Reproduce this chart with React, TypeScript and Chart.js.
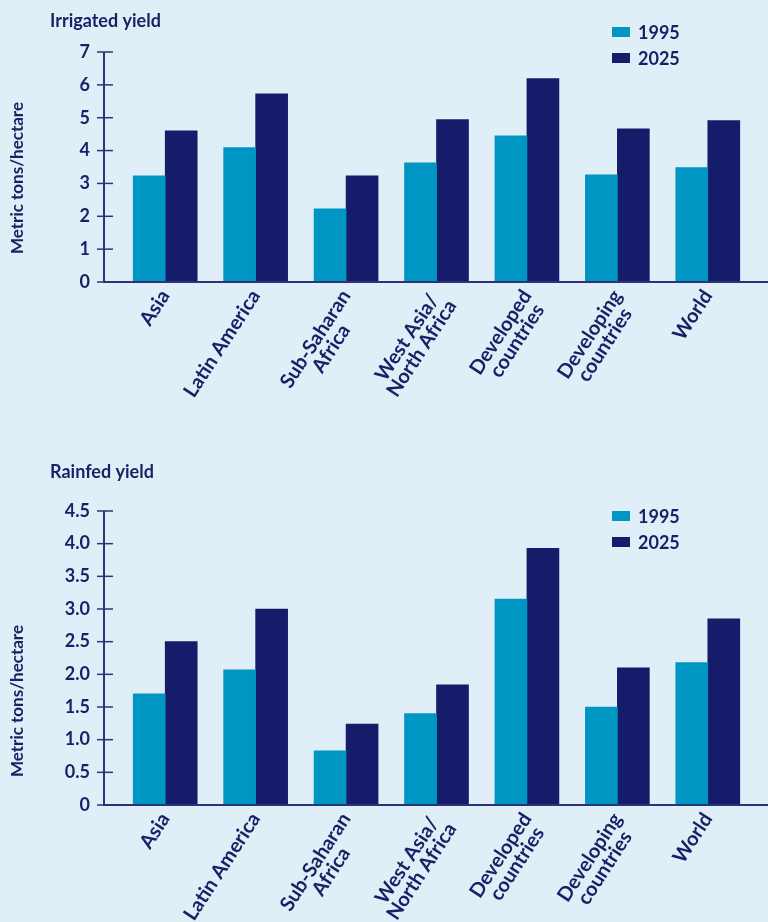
import React, { useEffect, useRef } from "react";
import { Chart, registerables } from "chart.js";
Chart.register(...registerables);

const categories: string[][] = [
  ["Asia"],
  ["Latin America"],
  ["Sub-Saharan", "Africa"],
  ["West Asia/", "North Africa"],
  ["Developed", "countries"],
  ["Developing", "countries"],
  ["World"],
];
const seriesLabels = ["1995", "2025"];
const irrigated1995 = [3.23, 4.09, 2.23, 3.63, 4.45, 3.26, 3.48];
const irrigated2025 = [4.6, 5.73, 3.23, 4.94, 6.19, 4.66, 4.91];
const rainfed1995 = [1.7, 2.07, 0.83, 1.4, 3.15, 1.5, 2.18];
const rainfed2025 = [2.5, 3.0, 1.24, 1.84, 3.93, 2.1, 2.85];
const irrigatedTicks = { max: 7, step: 1 };
const rainfedTicks = { max: 4.5, step: 0.5 };

const BG = "rgb(224,239,247)";
const NAVY = "#1a1f66";
const AXIS = "#2b3478";
const C1995 = "#0096c3";
const C2025 = "#151c69";
const FONT = "Lato, 'Open Sans', sans-serif";
const W = "bold";
const XFONT_SIZE = 20;

// center the lines of a multi-line rotated label (Chart.js right-aligns them)
const measureCtx = (() => {
  const c = document.createElement("canvas");
  return c.getContext("2d") as CanvasRenderingContext2D;
})();
function centeredLines(lines: string[]): string[] {
  if (lines.length < 2) return lines;
  measureCtx.font = `${W} ${XFONT_SIZE}px ${FONT}`;
  const widths = lines.map((l) => measureCtx.measureText(l).width);
  const maxW = Math.max(...widths);
  const sp = measureCtx.measureText(" ").width || 4;
  return lines.map((l, i) => l + " ".repeat(Math.max(0, Math.round((maxW - widths[i]) / 2 / sp))));
}

type Cfg = {
  title: string;
  d1: number[];
  d2: number[];
  max: number;
  step: number;
  height: number;
  padTop: number;
  xHeight: number;
  titleY: number;
  yTitleY: number;
  legendY: number;
  fmt: (v: number) => string;
};

const decor = {
  id: "decor",
  afterDatasetsDraw(chart: any, _a: any, opts: any) {
    const { ctx, chartArea, scales } = chart;
    const y = scales.y;
    const ax = chartArea.left - 16;
    ctx.save();
    ctx.strokeStyle = AXIS;
    ctx.lineWidth = 2;
    ctx.beginPath();
    ctx.moveTo(ax, y.getPixelForValue(y.max));
    ctx.lineTo(ax, chartArea.bottom);
    ctx.lineTo(chart.width, chartArea.bottom);
    ctx.stroke();
    ctx.lineWidth = 1.5;
    y.ticks.forEach((t: any) => {
      const py = y.getPixelForValue(t.value);
      ctx.beginPath();
      ctx.moveTo(ax - 7, py);
      ctx.lineTo(ax + 9, py);
      ctx.stroke();
    });
    ctx.fillStyle = NAVY;
    ctx.font = `${W} 18px ${FONT}`;
    ctx.textAlign = "left";
    ctx.textBaseline = "middle";
    ctx.fillText(opts.title, 50, opts.titleY);
    ctx.save();
    ctx.translate(18, opts.yTitleY);
    ctx.rotate(-Math.PI / 2);
    ctx.textAlign = "center";
    ctx.font = `${W} 17px ${FONT}`;
    ctx.fillText("Metric tons/hectare", 0, 0);
    ctx.restore();
    chart.data.datasets.forEach((ds: any, i: number) => {
      const cy = opts.legendY + i * 26;
      ctx.fillStyle = ds.backgroundColor;
      ctx.fillRect(612, cy - 5, 18, 10);
      ctx.fillStyle = NAVY;
      ctx.font = `${W} 18px ${FONT}`;
      ctx.textAlign = "left";
      ctx.fillText(ds.label, 638, cy + 1);
    });
    ctx.restore();
  },
};

function YieldChart({ cfg }: { cfg: Cfg }) {
  const ref = useRef<HTMLCanvasElement>(null);
  useEffect(() => {
    const chart = new Chart(ref.current as HTMLCanvasElement, {
      type: "bar",
      data: {
        labels: categories,
        datasets: [
          { label: seriesLabels[0], data: cfg.d1, backgroundColor: C1995, barThickness: 32 },
          { label: seriesLabels[1], data: cfg.d2, backgroundColor: C2025, barThickness: 32 },
        ],
      },
      options: {
        responsive: false,
        maintainAspectRatio: false,
        animation: false,
        layout: { padding: { top: cfg.padTop, right: 15, left: 0, bottom: 0 } },
        plugins: {
          legend: { display: false },
          title: { display: false },
          tooltip: { enabled: false },
          decor: { title: cfg.title, titleY: cfg.titleY, yTitleY: cfg.yTitleY, legendY: cfg.legendY },
        } as any,
        scales: {
          x: {
            grid: { display: false, drawTicks: false },
            border: { display: false },
            ticks: {
              autoSkip: false,
              minRotation: 57,
              maxRotation: 57,
              padding: 5,
              color: NAVY,
              font: { family: FONT, size: XFONT_SIZE, weight: W, lineHeight: 0.92 },
              callback: (_v: any, i: number) => centeredLines(categories[i]),
            },
            afterFit: (s: any) => {
              s.height = cfg.xHeight;
            },
          },
          y: {
            min: 0,
            max: cfg.max,
            grid: { display: false, drawTicks: false },
            border: { display: false },
            ticks: {
              stepSize: cfg.step,
              padding: 30,
              color: NAVY,
              font: { family: FONT, size: 18, weight: W },
              callback: (v: any) => cfg.fmt(Number(v)),
            },
            afterFit: (s: any) => {
              s.width = 120;
            },
          },
        },
      },
      plugins: [decor],
    } as any);
    return () => chart.destroy();
  }, [cfg]);
  return (
    <canvas
      ref={ref}
      width={768}
      height={cfg.height}
      style={{ display: "block", width: 768, height: cfg.height }}
    />
  );
}

const topCfg: Cfg = {
  title: "Irrigated yield",
  d1: irrigated1995,
  d2: irrigated2025,
  max: irrigatedTicks.max,
  step: irrigatedTicks.step,
  height: 460,
  padTop: 52,
  xHeight: 178,
  titleY: 21,
  yTitleY: 178,
  legendY: 32,
  fmt: (v) => String(v),
};
const bottomCfg: Cfg = {
  title: "Rainfed yield",
  d1: rainfed1995,
  d2: rainfed2025,
  max: rainfedTicks.max,
  step: rainfedTicks.step,
  height: 462,
  padTop: 51,
  xHeight: 117,
  titleY: 12,
  yTitleY: 241,
  legendY: 56,
  fmt: (v) => (v === 0 ? "0" : v.toFixed(1)),
};

export default function App() {
  useEffect(() => {
    document.body.style.margin = "0";
    document.body.style.background = BG;
  }, []);
  return (
    <div style={{ width: 768, height: 922, background: BG, overflow: "hidden" }}>
      <YieldChart cfg={topCfg} />
      <YieldChart cfg={bottomCfg} />
    </div>
  );
}
